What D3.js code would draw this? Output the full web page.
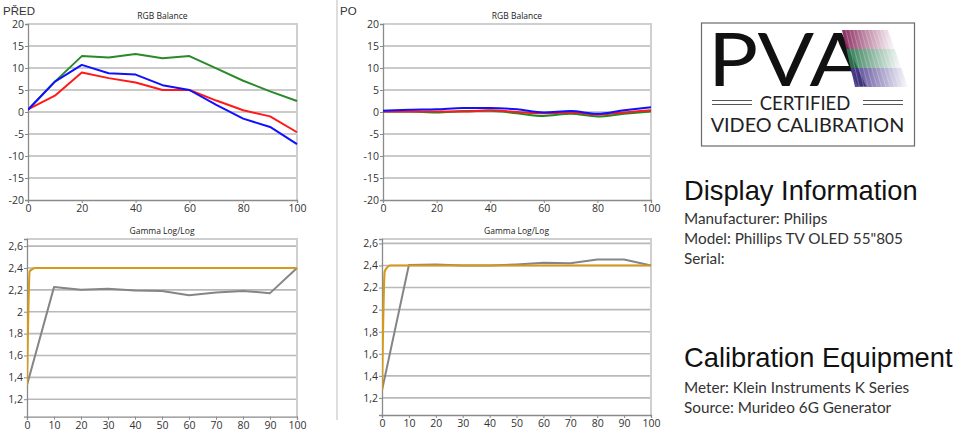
<!DOCTYPE html>
<html><head><meta charset="utf-8">
<script src="https://cdn.jsdelivr.net/npm/d3@7"></script>
<style>
html,body{margin:0;padding:0;background:#fff;}
svg{display:block;}
</style></head>
<body>
<svg id="c" width="980" height="439"></svg>
<script>
// ---------- DATA ----------
const levels = [0,10,20,30,40,50,60,70,80,90,100];
const redBefore   = [0.6, 3.7, 9.0, 7.7, 6.7, 5.0, 5.0, 2.6, 0.4, -1.0, -4.6];
const greenBefore = [0.5, 6.9, 12.7, 12.4, 13.2, 12.2, 12.7, 9.9, 7.1, 4.7, 2.5];
const blueBefore  = [0.5, 6.9, 10.7, 8.8, 8.5, 6.1, 5.0, 1.6, -1.5, -3.4, -7.3];
const redAfter    = [0.1, 0.1, 0.1, 0.1, 0.4, 0.0, -0.3, -0.1, -0.6, -0.1, 0.4];
const greenAfter  = [0.1, 0.1, -0.1, 0.2, 0.3, -0.3, -0.9, -0.4, -1.0, -0.4, 0.1];
const blueAfter   = [0.3, 0.5, 0.6, 0.9, 0.9, 0.6, -0.1, 0.2, -0.4, 0.4, 1.1];
const gammaBefore = [1.33, 2.225, 2.2, 2.21, 2.195, 2.19, 2.15, 2.175, 2.19, 2.17, 2.4];
const gammaAfter  = [1.27, 2.405, 2.41, 2.40, 2.40, 2.41, 2.425, 2.42, 2.455, 2.455, 2.40];
const targetLevels = [0, 1, 2, 3, 5, 100];
const targetBefore = [1.33, 2.37, 2.39, 2.40, 2.40, 2.40];
const targetAfter  = [1.27, 2.345, 2.385, 2.40, 2.40, 2.40];
const rgbTicks = [-20,-15,-10,-5,0,5,10,15,20];
const rgbXTicks = [0,20,40,60,80,100];
const gammaTicks = [1.2,1.4,1.6,1.8,2.0,2.2,2.4,2.6];
const gammaXTicks = [0,10,20,30,40,50,60,70,80,90,100];
const rgbTitle = "RGB Balance";
const gammaTitle = "Gamma Log/Log";
const displayLines = ["Manufacturer: Philips", "Model: Phillips TV OLED 55\"805", "Serial:"];
const equipLines = ["Meter: Klein Instruments K Series", "Source: Murideo 6G Generator"];

const svg = d3.select("#c");
const fmtGamma = d => d3.format(".1f")(d).replace(/\.0$/,"").replace(".", ",");

function chart(opt){
  const x = d3.scaleLinear().domain([0,100]).range([opt.x0, opt.x1]);
  const y = d3.scaleLinear().domain(opt.yDomain).range([opt.yB, opt.yT]);
  const g = svg.append("g");
  g.selectAll("line.grid").data(opt.yTicks.filter(t => y(t) > opt.yT + 2 && y(t) < opt.yB - 2))
    .join("line").attr("x1", opt.x0).attr("x2", opt.x1)
    .attr("y1", d => y(d)).attr("y2", d => y(d))
    .attr("stroke", "#b9b9b9").attr("stroke-width", 1.6);
  g.append("path").attr("d", `M${opt.x0},${opt.yT}H${opt.x1}V${opt.yB}`)
    .attr("fill","none").attr("stroke","#cfcfcf").attr("stroke-width",2);
  const ya = g.append("g").attr("transform", `translate(${opt.x0},0)`)
    .call(d3.axisLeft(y).tickValues(opt.yTicks).tickSize(3).tickPadding(1).tickFormat(opt.yFmt));
  const xa = g.append("g").attr("transform", `translate(0,${opt.yB})`)
    .call(d3.axisBottom(x).tickValues(opt.xTicks).tickSize(3).tickPadding(2));
  [ya, xa].forEach(a => {
    a.select(".domain").attr("stroke", "#8a8a8a").attr("stroke-width", 1.3);
    a.selectAll(".tick line").attr("stroke", "#8a8a8a");
    a.selectAll("text").attr("fill", "#333").style("font-family", "'Open Sans', sans-serif").style("font-size", "10.5px");
  });
  g.append("text").attr("x", (opt.x0 + opt.x1)/2).attr("y", opt.yT - 5)
    .attr("text-anchor","middle").attr("fill","#222")
    .style("font-family","'Open Sans', sans-serif").style("font-size","8.5px").text(opt.title);
  const clip = "clip" + Math.round(opt.x0) + Math.round(opt.yT);
  svg.append("defs").append("clipPath").attr("id", clip).append("rect")
    .attr("x", opt.x0).attr("y", opt.yT - 2).attr("width", opt.x1 - opt.x0 + 2).attr("height", opt.yB - opt.yT + 2);
  const sg = g.append("g").attr("clip-path", `url(#${clip})`);
  opt.series.forEach(s => {
    const line = d3.line().x(d => x(d[0])).y(d => y(d[1])).curve(s.curve || d3.curveLinear);
    sg.append("path").attr("d", line(s.xs.map((v,i) => [v, s.ys[i]])))
      .attr("fill","none").attr("stroke", s.color).attr("stroke-width", s.w || 2)
      .attr("stroke-linejoin","round");
  });
  return g;
}

chart({x0:28, x1:297, yT:24, yB:200, yDomain:[-20,20], yTicks:rgbTicks, xTicks:rgbXTicks, title:rgbTitle,
  yFmt: d => d,
  series:[
    {xs:levels, ys:greenBefore, color:"#2a8a2a"},
    {xs:levels, ys:redBefore, color:"#ff1a1a"},
    {xs:levels, ys:blueBefore, color:"#1010ff"}
  ]});
chart({x0:383, x1:651, yT:24, yB:200, yDomain:[-20,20], yTicks:rgbTicks, xTicks:rgbXTicks, title:rgbTitle,
  yFmt: d => d,
  series:[
    {xs:levels, ys:greenAfter, color:"#1f8a1f", curve:d3.curveMonotoneX},
    {xs:levels, ys:redAfter, color:"#ff1a1a", curve:d3.curveMonotoneX},
    {xs:levels, ys:blueAfter, color:"#1010ff", curve:d3.curveMonotoneX}
  ]});
chart({x0:27, x1:297, yT:239, yB:416.7, yDomain:[1.04,2.665], yTicks:gammaTicks, xTicks:gammaXTicks, title:gammaTitle,
  yFmt: fmtGamma,
  series:[
    {xs:levels, ys:gammaBefore, color:"#858585"},
    {xs:targetLevels, ys:targetBefore, color:"#d49a1c", curve:d3.curveMonotoneX, w:2.2}
  ]});
chart({x0:382, x1:651, yT:239, yB:415, yDomain:[1.045,2.64], yTicks:gammaTicks, xTicks:gammaXTicks, title:gammaTitle,
  yFmt: fmtGamma,
  series:[
    {xs:levels, ys:gammaAfter, color:"#858585"},
    {xs:targetLevels, ys:targetAfter, color:"#d49a1c", curve:d3.curveMonotoneX, w:2.2}
  ]});

svg.append("text").attr("x",3).attr("y",14.5).attr("fill","#333")
  .style("font-family","'Liberation Sans', Arial, sans-serif").style("font-size","11.5px").text("PŘED");
svg.append("text").attr("x",340).attr("y",14.5).attr("fill","#333")
  .style("font-family","'Liberation Sans', Arial, sans-serif").style("font-size","11.5px").text("PO");
svg.append("line").attr("x1",337).attr("x2",337).attr("y1",0).attr("y2",420)
  .attr("stroke","#bdbdbd").attr("stroke-width",1);

// ---------- Logo ----------
const logo = svg.append("g");
logo.append("rect").attr("x",701.5).attr("y",23).attr("width",213).attr("height",123)
  .attr("fill","#fff").attr("stroke","#6a6a6a").attr("stroke-width",1.2);
const defs = svg.append("defs");
const bands = [
  {c:"#8a2a5e", y0:30, y1:49},
  {c:"#2c7a52", y0:49, y1:68},
  {c:"#4a3a8e", y0:68, y1:87}
];
logo.append("text").attr("transform","translate(708,85.5) scale(1.13,1)").attr("fill","#111")
  .style("font-family","Lato, sans-serif").style("font-size","74px").text("PVA");
const slopeL = (855-842)/(87-30), slopeR = (908-888)/(87-30);
bands.forEach((b,i) => {
  const id = "lg"+i;
  const gr = defs.append("linearGradient").attr("id", id).attr("x1","0").attr("x2","1").attr("y1","0").attr("y2","0");
  gr.append("stop").attr("offset","0").attr("stop-color", b.c).attr("stop-opacity",1);
  gr.append("stop").attr("offset","0.45").attr("stop-color", b.c).attr("stop-opacity",0.55);
  gr.append("stop").attr("offset","1").attr("stop-color", b.c).attr("stop-opacity",0.02);
  const lx0 = 842 + slopeL*(b.y0-30), lx1 = 842 + slopeL*(b.y1-30);
  const rx0 = 888 + slopeR*(b.y0-30), rx1 = 888 + slopeR*(b.y1-30);
  logo.append("path").attr("d", `M${lx0},${b.y0}L${rx0},${b.y0}L${rx1},${b.y1}L${lx1},${b.y1}Z`)
    .attr("fill", `url(#${id})`);
  for (let k = 1; k < 12; k++){
    const t = k/12;
    logo.append("line")
      .attr("x1", lx0 + (rx0-lx0)*t).attr("y1", b.y0)
      .attr("x2", lx1 + (rx1-lx1)*t).attr("y2", b.y1)
      .attr("stroke","#fff").attr("stroke-opacity",0.25).attr("stroke-width",1);
  }
});
logo.append("text").attr("x",805).attr("y",110).attr("text-anchor","middle").attr("fill","#222")
  .style("font-family","Lato, sans-serif").style("font-size","18.5px").text("CERTIFIED");
logo.append("text").attr("x",807.5).attr("y",132).attr("text-anchor","middle").attr("fill","#222")
  .style("font-family","Lato, sans-serif").style("font-size","19.8px").text("VIDEO CALIBRATION");
[[712,752],[863,903]].forEach(([a,b]) => {
  [100.5,104.5].forEach(yy => logo.append("line").attr("x1",a).attr("x2",b).attr("y1",yy).attr("y2",yy)
    .attr("stroke","#555").attr("stroke-width",1));
});

// ---------- Info text ----------
const info = svg.append("g");
info.append("text").attr("x",684).attr("y",200).attr("fill","#111")
  .style("font-family","'Liberation Sans', Arial, sans-serif").style("font-size","27.3px").text("Display Information");
displayLines.forEach((t,i) => info.append("text").attr("x",684).attr("y",224 + i*20).attr("fill","#333")
  .style("font-family","Lato, sans-serif").style("font-size","15.3px").text(t));
info.append("text").attr("x",684).attr("y",367).attr("fill","#111")
  .style("font-family","'Liberation Sans', Arial, sans-serif").style("font-size","27.3px").text("Calibration Equipment");
equipLines.forEach((t,i) => info.append("text").attr("x",684).attr("y",393 + i*20).attr("fill","#333")
  .style("font-family","Lato, sans-serif").style("font-size","15.3px").text(t));
</script>
</body></html>
